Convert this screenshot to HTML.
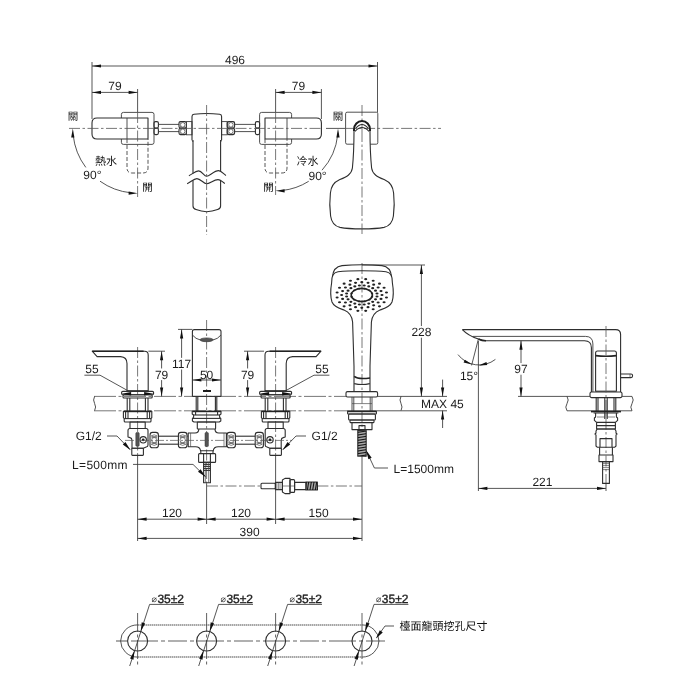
<!DOCTYPE html>
<html lang="zh-Hant">
<head>
<meta charset="utf-8">
<title>Faucet dimension drawing</title>
<style>
html,body{margin:0;padding:0;background:#fff;}
body{width:700px;height:700px;overflow:hidden;}
svg{display:block;will-change:transform;}
.l{fill:none;stroke:#3c3c3c;stroke-width:0.9;}
.kw{fill:#fff;stroke:#2e2e2e;stroke-width:1.1;stroke-linejoin:round;}
.k{fill:none;stroke:#2e2e2e;stroke-width:1.1;stroke-linejoin:round;}
.kk{fill:none;stroke:#1c1c1c;stroke-width:2;}
.f{fill:none;stroke:#444;stroke-width:0.65;}
.d{fill:none;stroke:#383838;stroke-width:0.85;}
.c{fill:none;stroke:#555;stroke-width:0.8;stroke-dasharray:11 2.5 2.5 2.5;}
.h{fill:none;stroke:#444;stroke-width:0.9;stroke-dasharray:4 2;}
.dot{fill:none;stroke:#222;stroke-width:1.1;stroke-dasharray:1.2 0.8;}
.c4{fill:none;stroke:#444;stroke-width:0.85;stroke-dasharray:27 3 4 3 19 3 4 3;}
.c5{fill:none;stroke:#444;stroke-width:0.85;stroke-dasharray:19 2.5 3 2.5;}
.a{fill:#111;stroke:none;}
.b{fill:#222;stroke:none;}
text{text-rendering:geometricPrecision;}
.t{font-family:"Liberation Sans",sans-serif;fill:#1c1c1c;}
.tc{font-family:"Liberation Sans","Noto Sans CJK TC",sans-serif;fill:#111;stroke:none;}
.c2{fill:none;stroke:#555;stroke-width:0.8;stroke-dasharray:22 2.5 3 2.5;}
.kt{fill:none;stroke:#222;stroke-width:1.6;}
.kt2{fill:none;stroke:#222;stroke-width:1.4;}
.k2{fill:none;stroke:#222;stroke-width:1.6;}
.g{fill:#555;stroke:#333;stroke-width:0.6;}
.sp{fill:#444;stroke:#222;stroke-width:0.8;}
.w{fill:#fff;stroke:none;}
.th{fill:#555;stroke:#333;stroke-width:0.5;}
.c3{fill:none;stroke:#555;stroke-width:0.7;stroke-dasharray:9 2 2 2;}
.s2{fill:none;stroke:#111;stroke-width:1;}
.dia{stroke:none;fill:#333;}
.tb{font-family:"Liberation Sans","DejaVu Sans",sans-serif;fill:#222;stroke:#222;stroke-width:0.35px;}
</style>
</head>
<body>
<svg width="700" height="700" viewBox="0 0 700 700">
<rect x="0" y="0" width="700" height="700" fill="#ffffff"/>
<line class="d" x1="92.00" y1="62.00" x2="92.00" y2="119.00"/>
<line class="d" x1="377.50" y1="62.00" x2="377.50" y2="112.40"/>
<line class="d" x1="92.00" y1="66.00" x2="377.50" y2="66.00"/>
<polygon class="a" points="92.00,66.00 101.00,64.40 101.00,67.60"/>
<polygon class="a" points="377.50,66.00 368.50,67.60 368.50,64.40"/>
<text class="t" x="235.00" y="63.60" font-size="12" text-anchor="middle">496</text>
<line class="d" x1="137.60" y1="89.00" x2="137.60" y2="112.00"/>
<line class="d" x1="275.60" y1="89.00" x2="275.60" y2="112.00"/>
<line class="d" x1="321.40" y1="89.00" x2="321.40" y2="119.00"/>
<line class="d" x1="92.00" y1="92.40" x2="137.60" y2="92.40"/>
<polygon class="a" points="92.00,92.40 101.00,90.80 101.00,94.00"/>
<polygon class="a" points="137.60,92.40 128.60,94.00 128.60,90.80"/>
<text class="t" x="115.00" y="90.00" font-size="12" text-anchor="middle">79</text>
<line class="d" x1="275.60" y1="92.40" x2="321.40" y2="92.40"/>
<polygon class="a" points="275.60,92.40 284.60,90.80 284.60,94.00"/>
<polygon class="a" points="321.40,92.40 312.40,94.00 312.40,90.80"/>
<text class="t" x="298.40" y="90.00" font-size="12" text-anchor="middle">79</text>
<rect class="l" x="121.40" y="112.40" width="32.60" height="32.00" rx="2"/>
<path class="kw" d="M148,118 H97 Q92,118 92,123 V134 Q92,139 97,139 H148 Z"/>
<line class="l" x1="127.00" y1="118.00" x2="127.00" y2="139.00"/>
<path class="h" d="M127,139 V168 Q127,173 132,173 H143 Q148,173 148,168 V139"/>
<rect class="l" x="259.60" y="112.40" width="32.00" height="32.00" rx="2"/>
<path class="kw" d="M265,118 H316.4 Q321.4,118 321.4,123 V134 Q321.4,139 316.4,139 H265 Z"/>
<line class="l" x1="287.00" y1="118.00" x2="287.00" y2="139.00"/>
<path class="h" d="M265,139 V168 Q265,173 270,173 H282 Q287,173 287,168 V139"/>
<rect class="k" x="154.00" y="121.60" width="4.40" height="6.40" rx="1.5"/>
<rect class="k" x="154.00" y="128.20" width="4.40" height="6.40" rx="1.5"/>
<line class="l" x1="158.40" y1="124.40" x2="179.00" y2="124.40"/>
<line class="l" x1="158.40" y1="131.60" x2="179.00" y2="131.60"/>
<rect class="k" x="179.00" y="121.60" width="7.40" height="6.40" rx="1.5"/>
<circle class="f" cx="182.70" cy="124.80" r="2.30"/>
<path class="f" d="M180,122.6 L181.2,123.6 M185.4,122.6 L184.20000000000002,123.6 M180,127.0 L181.2,126.0 M185.4,127.0 L184.20000000000002,126.0"/>
<rect class="k" x="179.00" y="128.20" width="7.40" height="6.40" rx="1.5"/>
<circle class="f" cx="182.70" cy="131.40" r="2.30"/>
<path class="f" d="M180,129.2 L181.2,130.2 M185.4,129.2 L184.20000000000002,130.2 M180,133.6 L181.2,132.6 M185.4,133.6 L184.20000000000002,132.6"/>
<rect class="l" x="186.40" y="121.60" width="5.60" height="13.20" rx="0"/>
<rect class="l" x="221.60" y="121.60" width="5.60" height="13.20" rx="0"/>
<rect class="k" x="227.20" y="121.60" width="7.40" height="6.40" rx="1.5"/>
<circle class="f" cx="230.90" cy="124.80" r="2.30"/>
<path class="f" d="M228.2,122.6 L229.39999999999998,123.6 M233.6,122.6 L232.4,123.6 M228.2,127.0 L229.39999999999998,126.0 M233.6,127.0 L232.4,126.0"/>
<rect class="k" x="227.20" y="128.20" width="7.40" height="6.40" rx="1.5"/>
<circle class="f" cx="230.90" cy="131.40" r="2.30"/>
<path class="f" d="M228.2,129.2 L229.39999999999998,130.2 M233.6,129.2 L232.4,130.2 M228.2,133.6 L229.39999999999998,132.6 M233.6,133.6 L232.4,132.6"/>
<line class="l" x1="234.60" y1="124.40" x2="255.40" y2="124.40"/>
<line class="l" x1="234.60" y1="131.60" x2="255.40" y2="131.60"/>
<rect class="k" x="255.40" y="121.60" width="4.20" height="6.40" rx="1.5"/>
<rect class="k" x="255.40" y="128.20" width="4.20" height="6.40" rx="1.5"/>
<path class="k" d="M192,140 V116.5 Q192,114.6 194,114.3 Q206.6,112.6 219.6,114.3 Q221.6,114.6 221.6,116.5 V140"/>
<path class="k" d="M193,140 V173.6 M220.6,140 V171 M193,180.4 V206 Q193,208.6 196,209.6 Q206.6,213.8 217.6,209.6 Q220.6,208.6 220.6,206 V180.6"/>
<path class="l" d="M192,140 L193,142 M221.6,140 L220.6,142"/>
<path class="k" d="M188.9,175.7 C192,174.5 195,170.9 198.6,170.9 C202,170.9 204,176.3 206.6,176.3 C209.5,176.3 214,170.6 218.6,170.6 C221.5,170.6 223.5,174 226,175.4"/>
<path class="k" d="M187.1,183.7 C190.5,182.5 193.5,178.6 196.9,178.6 C200.5,178.6 203.5,183.7 206.6,183.7 C209.5,183.7 214,179.6 218,179.6 C221,179.6 222.5,182.4 224.9,183.4"/>
<line class="c" x1="69.00" y1="128.40" x2="322.00" y2="128.40"/>
<line class="c" x1="345.60" y1="128.40" x2="441.00" y2="128.40"/>
<line class="c" x1="137.60" y1="112.00" x2="137.60" y2="197.00"/>
<line class="c" x1="275.60" y1="112.00" x2="275.60" y2="195.00"/>
<line class="c" x1="206.60" y1="105.00" x2="206.60" y2="235.00"/>
<line class="c" x1="362.00" y1="105.00" x2="362.00" y2="131.00"/>
<path class="d" d="M73.2,135.2 A64.8,64.8 0 0 0 85.8,167.4"/>
<path class="d" d="M100.0,181.2 A64.8,64.8 0 0 0 130.8,192.8"/>
<polygon class="a" points="72.80,128.40 74.40,137.40 71.20,137.40"/>
<polygon class="a" points="137.60,193.20 128.60,194.80 128.60,191.60"/>
<path class="d" d="M337.7,134.9 A62.4,62.4 0 0 1 322.0,170.2"/>
<path class="d" d="M308.7,181.3 A62.4,62.4 0 0 1 282.1,190.5"/>
<polygon class="a" points="338.00,128.40 339.60,137.40 336.40,137.40"/>
<polygon class="a" points="275.60,190.80 284.60,189.20 284.60,192.40"/>
<line class="d" x1="326.00" y1="128.40" x2="345.00" y2="128.40"/>
<text class="tc" x="73.00" y="120.00" font-size="10.5" text-anchor="middle">關</text>
<text class="tc" x="147.60" y="191.00" font-size="10.5" text-anchor="middle">開</text>
<text class="tc" x="338.00" y="120.00" font-size="10.5" text-anchor="middle">關</text>
<text class="tc" x="268.40" y="190.60" font-size="10.5" text-anchor="middle">開</text>
<text class="tc" x="106.00" y="164.60" font-size="11" text-anchor="middle">熱水</text>
<text class="tc" x="307.60" y="165.00" font-size="11" text-anchor="middle">冷水</text>
<text class="t" x="92.40" y="179.00" font-size="12" text-anchor="middle">90°</text>
<text class="t" x="317.60" y="180.00" font-size="12" text-anchor="middle">90°</text>
<rect class="l" x="345.60" y="112.20" width="32.20" height="32.00" rx="1.5"/>
<path class="kw" d="M354,131 C354,142 353.4,158 352.4,168 C351.4,175 346,177 339,180 C333,182.6 331,187 330.4,193 C329.6,200 329.8,210 330.6,216 C331.4,222 334,226 340,227.4 C350,229.4 374,229.4 384,227.4 C390,226 392.6,222 393.4,216 C394.2,210 394.4,200 393.6,193 C393,187 391,182.6 385,180 C378,177 372.6,175 371.6,168 C370.6,158 370,142 370,131"/>
<line class="c" x1="362.00" y1="131.00" x2="362.00" y2="234.00"/>
<path class="kk" d="M354,131 V129.5 A8,8.5 0 0 1 370,129.5 V131"/>
<path class="k" d="M355.8,128.4 Q362,120.6 368.2,128.4 M355,131.4 Q362,123.6 369,131.4"/>
<line class="c2" x1="94.00" y1="396.40" x2="346.00" y2="396.40"/>
<line class="c2" x1="94.00" y1="410.80" x2="348.00" y2="410.80"/>
<line class="d" x1="377.60" y1="396.40" x2="447.00" y2="396.40"/>
<line class="d" x1="376.40" y1="410.80" x2="447.00" y2="410.80"/>
<path class="l" d="M94.6,396.4 Q92.6,400 94.6,403.5 Q96.6,407 94.6,410.6"/>
<path class="l" d="M401,396.4 Q399,400 401,403.5 Q403,407 401,410.6"/>
<line class="c" x1="137.60" y1="347.00" x2="137.60" y2="456.00"/>
<line class="c" x1="275.60" y1="347.00" x2="275.60" y2="456.00"/>
<line class="c" x1="206.60" y1="320.00" x2="206.60" y2="484.00"/>
<line class="c" x1="362.00" y1="263.00" x2="362.00" y2="430.00"/>
<path class="k" d="M127.0,391 V363.5 Q127.0,357 120.6,356.6 H97.1 L92.19999999999999,351.2 H144.6 Q148.2,351.2 148.2,355 V391"/>
<line class="kt" x1="92.20" y1="351.20" x2="143.60" y2="351.20"/>
<line class="kt" x1="127.00" y1="391.00" x2="148.20" y2="391.00"/>
<rect class="k" x="121.60" y="391.40" width="32.00" height="3.40" rx="1.2"/>
<rect class="k" x="123.00" y="394.80" width="29.20" height="3.20" rx="1"/>
<polygon class="a" points="121.60,393.80 131.10,392.00 131.10,395.60"/>
<polygon class="a" points="153.60,393.80 144.10,395.60 144.10,392.00"/>
<line class="k" x1="127.20" y1="398.00" x2="127.20" y2="411.00"/>
<line class="k" x1="129.80" y1="398.00" x2="129.80" y2="411.00"/>
<line class="k" x1="145.40" y1="398.00" x2="145.40" y2="411.00"/>
<line class="k" x1="148.00" y1="398.00" x2="148.00" y2="411.00"/>
<line class="kt" x1="123.40" y1="411.40" x2="151.80" y2="411.40"/>
<path class="k" d="M123.39999999999999,411 V417.6 L124.19999999999999,418.6 V421 Q124.19999999999999,422 125.19999999999999,422 H150.0 Q151.0,422 151.0,421 V418.6 L151.79999999999998,417.6 V411"/>
<line class="k" x1="124.20" y1="418.60" x2="151.00" y2="418.60"/>
<line class="k" x1="125.60" y1="412.00" x2="125.60" y2="418.60"/>
<line class="k" x1="128.00" y1="412.00" x2="128.00" y2="418.60"/>
<line class="k" x1="147.20" y1="412.00" x2="147.20" y2="418.60"/>
<line class="k" x1="149.60" y1="412.00" x2="149.60" y2="418.60"/>
<rect class="k" x="130.00" y="422.00" width="15.20" height="6.50" rx="0"/>
<path class="k" d="M128.0,437 V430.5 Q128.0,428.5 130.0,428.5 H146.1 Q148.0,428.5 148.0,430.5 V445 Q148.0,446.8 146.2,447 L143.2,448.2 H132.0 V440.5 Q132.0,438 130.0,437.6 Z"/>
<rect class="k" x="131.80" y="448.20" width="11.60" height="7.20" rx="0.6"/>
<circle class="k" cx="143.20" cy="439.80" r="3.20"/>
<circle class="b" cx="143.20" cy="439.80" r="1.40"/>
<path class="k" d="M286.20000000000005,391 V363.5 Q286.20000000000005,357 292.6,356.6 H316.1 L321.0,351.2 H268.6 Q265.0,351.2 265.0,355 V391"/>
<line class="kt" x1="321.00" y1="351.20" x2="269.60" y2="351.20"/>
<line class="kt" x1="265.00" y1="391.00" x2="286.20" y2="391.00"/>
<rect class="k" x="259.60" y="391.40" width="32.00" height="3.40" rx="1.2"/>
<rect class="k" x="261.00" y="394.80" width="29.20" height="3.20" rx="1"/>
<polygon class="a" points="259.60,393.80 269.10,392.00 269.10,395.60"/>
<polygon class="a" points="291.60,393.80 282.10,395.60 282.10,392.00"/>
<line class="k" x1="265.20" y1="398.00" x2="265.20" y2="411.00"/>
<line class="k" x1="267.80" y1="398.00" x2="267.80" y2="411.00"/>
<line class="k" x1="283.40" y1="398.00" x2="283.40" y2="411.00"/>
<line class="k" x1="286.00" y1="398.00" x2="286.00" y2="411.00"/>
<line class="kt" x1="261.40" y1="411.40" x2="289.80" y2="411.40"/>
<path class="k" d="M261.40000000000003,411 V417.6 L262.20000000000005,418.6 V421 Q262.20000000000005,422 263.20000000000005,422 H288.0 Q289.0,422 289.0,421 V418.6 L289.8,417.6 V411"/>
<line class="k" x1="262.20" y1="418.60" x2="289.00" y2="418.60"/>
<line class="k" x1="263.60" y1="412.00" x2="263.60" y2="418.60"/>
<line class="k" x1="266.00" y1="412.00" x2="266.00" y2="418.60"/>
<line class="k" x1="285.20" y1="412.00" x2="285.20" y2="418.60"/>
<line class="k" x1="287.60" y1="412.00" x2="287.60" y2="418.60"/>
<rect class="k" x="268.00" y="422.00" width="15.20" height="6.50" rx="0"/>
<path class="k" d="M285.20000000000005,437 V430.5 Q285.20000000000005,428.5 283.20000000000005,428.5 H267.1 Q265.20000000000005,428.5 265.20000000000005,430.5 V445 Q265.20000000000005,446.8 267.0,447 L270.0,448.2 H281.20000000000005 V440.5 Q281.20000000000005,438 283.20000000000005,437.6 Z"/>
<rect class="k" x="269.80" y="448.20" width="11.60" height="7.20" rx="0.6"/>
<circle class="k" cx="270.00" cy="439.80" r="3.20"/>
<circle class="b" cx="270.00" cy="439.80" r="1.40"/>
<path class="k" d="M192.4,396.4 V331.6 Q192.4,329.6 194.4,329.6 H219 Q221,329.6 221,331.6 V396.4"/>
<path class="l" d="M192.4,335 Q195.6,339 200.4,340 M221,335 Q217.8,339 213,340"/>
<ellipse class="g" cx="206.60" cy="339.80" rx="6.60" ry="1.90"/>
<line class="kk" x1="203.00" y1="391.00" x2="211.00" y2="391.00"/>
<line class="k" x1="192.40" y1="396.40" x2="221.00" y2="396.40"/>
<line class="k" x1="196.20" y1="397.00" x2="196.20" y2="411.00"/>
<line class="k" x1="197.80" y1="397.00" x2="197.80" y2="411.00"/>
<line class="k" x1="215.40" y1="397.00" x2="215.40" y2="411.00"/>
<line class="k" x1="216.80" y1="397.00" x2="216.80" y2="411.00"/>
<line class="kt" x1="192.20" y1="411.40" x2="221.00" y2="411.40"/>
<path class="k" d="M192.2,411 V414 L193.6,415 V417.4 L192.4,418.4 V421 L194.0,422 H219.2 L220.79999999999998,421 V418.4 L219.6,417.4 V415 L221.0,414 V411"/>
<line class="k" x1="193.60" y1="415.00" x2="219.60" y2="415.00"/>
<line class="k" x1="192.60" y1="418.40" x2="220.60" y2="418.40"/>
<line class="k" x1="195.60" y1="411.00" x2="195.60" y2="415.00"/>
<line class="k" x1="217.60" y1="411.00" x2="217.60" y2="415.00"/>
<rect class="k" x="197.30" y="422.00" width="18.30" height="7.00" rx="0.6"/>
<path class="k" d="M198.8,429 Q198.8,433 195,433 H188.2 V446.8 H195.6 Q200,446.8 200.6,450.8 H213.2 Q213.8,446.8 218.2,446.8 H226.4 V433 H218.8 Q215,433 215,429"/>
<line class="f" x1="190.60" y1="433.00" x2="190.60" y2="446.80"/>
<line class="f" x1="224.00" y1="433.00" x2="224.00" y2="446.80"/>
<rect class="th" x="205.00" y="432.60" width="3.40" height="14.00" rx="0.8"/>
<rect class="th" x="135.80" y="432.60" width="3.40" height="13.60" rx="0.8"/>
<path class="k" d="M199.4,453.6 H214.8 Q215.6,453.6 215.6,454.6 V461.4 Q215.6,462.4 214.8,462.4 H199.4 Q198.6,462.4 198.6,461.4 V454.6 Q198.6,453.6 199.4,453.6 Z"/>
<line class="k" x1="203.60" y1="453.60" x2="203.60" y2="462.40"/>
<line class="k" x1="210.40" y1="453.60" x2="210.40" y2="462.40"/>
<line class="k" x1="200.80" y1="450.80" x2="200.80" y2="453.60"/>
<line class="k" x1="213.00" y1="450.80" x2="213.00" y2="453.60"/>
<rect class="k" x="203.60" y="462.40" width="6.80" height="20.40" rx="0"/>
<line class="k" x1="203.60" y1="464.40" x2="210.40" y2="464.40"/>
<line class="k" x1="203.60" y1="466.40" x2="210.40" y2="466.40"/>
<line class="k" x1="203.60" y1="468.40" x2="210.40" y2="468.40"/>
<line class="k" x1="203.60" y1="470.40" x2="210.40" y2="470.40"/>
<line class="f" x1="205.40" y1="462.40" x2="205.40" y2="482.80"/>
<line class="f" x1="208.60" y1="462.40" x2="208.60" y2="482.80"/>
<rect class="k" x="150.00" y="432.40" width="8.40" height="15.40" rx="2.6"/>
<ellipse class="f" cx="154.20" cy="440.10" rx="2.60" ry="2.60"/>
<path class="f" d="M151,436.0 Q154.2,433.59999999999997 157.4,436.0 M151,444.19999999999993 Q154.2,446.59999999999997 157.4,444.19999999999993"/>
<path class="f" d="M151.4,436.2 L157.0,437.7 M157.0,436.2 L151.4,437.7 M151.4,443.99999999999994 L157.0,442.49999999999994 M157.0,443.99999999999994 L151.4,442.49999999999994"/>
<rect class="k" x="178.40" y="432.40" width="8.60" height="15.40" rx="2.6"/>
<ellipse class="f" cx="182.70" cy="440.10" rx="2.70" ry="2.60"/>
<path class="f" d="M179.4,436.0 Q182.70000000000002,433.59999999999997 186.0,436.0 M179.4,444.19999999999993 Q182.70000000000002,446.59999999999997 186.0,444.19999999999993"/>
<path class="f" d="M179.8,436.2 L185.6,437.7 M185.6,436.2 L179.8,437.7 M179.8,443.99999999999994 L185.6,442.49999999999994 M185.6,443.99999999999994 L179.8,442.49999999999994"/>
<rect class="k" x="227.00" y="432.40" width="8.40" height="15.40" rx="2.6"/>
<ellipse class="f" cx="231.20" cy="440.10" rx="2.60" ry="2.60"/>
<path class="f" d="M228,436.0 Q231.2,433.59999999999997 234.4,436.0 M228,444.19999999999993 Q231.2,446.59999999999997 234.4,444.19999999999993"/>
<path class="f" d="M228.4,436.2 L234.0,437.7 M234.0,436.2 L228.4,437.7 M228.4,443.99999999999994 L234.0,442.49999999999994 M234.0,443.99999999999994 L228.4,442.49999999999994"/>
<rect class="k" x="255.20" y="432.40" width="8.20" height="15.40" rx="2.6"/>
<ellipse class="f" cx="259.30" cy="440.10" rx="2.50" ry="2.60"/>
<path class="f" d="M256.2,436.0 Q259.3,433.59999999999997 262.4,436.0 M256.2,444.19999999999993 Q259.3,446.59999999999997 262.4,444.19999999999993"/>
<path class="f" d="M256.59999999999997,436.2 L262.0,437.7 M262.0,436.2 L256.59999999999997,437.7 M256.59999999999997,443.99999999999994 L262.0,442.49999999999994 M262.0,443.99999999999994 L256.59999999999997,442.49999999999994"/>
<line class="k" x1="158.40" y1="436.20" x2="178.40" y2="436.20"/>
<line class="k" x1="158.40" y1="444.20" x2="178.40" y2="444.20"/>
<line class="k" x1="235.40" y1="436.20" x2="255.20" y2="436.20"/>
<line class="k" x1="235.40" y1="444.20" x2="255.20" y2="444.20"/>
<line class="l" x1="187.00" y1="436.20" x2="188.20" y2="436.20"/>
<line class="l" x1="187.00" y1="444.20" x2="188.20" y2="444.20"/>
<line class="c3" x1="125.00" y1="440.40" x2="292.00" y2="440.40"/>
<line class="d" x1="137.60" y1="456.00" x2="137.60" y2="541.00"/>
<line class="d" x1="206.60" y1="484.00" x2="206.60" y2="524.00"/>
<line class="d" x1="275.60" y1="456.00" x2="275.60" y2="524.00"/>
<line class="d" x1="362.00" y1="456.00" x2="362.00" y2="541.00"/>
<line class="d" x1="137.60" y1="519.20" x2="206.60" y2="519.20"/>
<polygon class="a" points="137.60,519.20 146.60,517.60 146.60,520.80"/>
<polygon class="a" points="206.60,519.20 197.60,520.80 197.60,517.60"/>
<line class="d" x1="206.60" y1="519.20" x2="275.60" y2="519.20"/>
<polygon class="a" points="206.60,519.20 215.60,517.60 215.60,520.80"/>
<polygon class="a" points="275.60,519.20 266.60,520.80 266.60,517.60"/>
<line class="d" x1="275.60" y1="519.20" x2="362.00" y2="519.20"/>
<polygon class="a" points="275.60,519.20 284.60,517.60 284.60,520.80"/>
<polygon class="a" points="362.00,519.20 353.00,520.80 353.00,517.60"/>
<line class="d" x1="137.60" y1="538.40" x2="362.00" y2="538.40"/>
<polygon class="a" points="137.60,538.40 146.60,536.80 146.60,540.00"/>
<polygon class="a" points="362.00,538.40 353.00,540.00 353.00,536.80"/>
<text class="t" x="172.00" y="516.60" font-size="12" text-anchor="middle">120</text>
<text class="t" x="241.00" y="516.60" font-size="12" text-anchor="middle">120</text>
<text class="t" x="318.60" y="516.60" font-size="12" text-anchor="middle">150</text>
<text class="t" x="249.60" y="536.00" font-size="12" text-anchor="middle">390</text>
<line class="d" x1="148.40" y1="351.20" x2="165.00" y2="351.20"/>
<line class="d" x1="161.60" y1="351.20" x2="161.60" y2="396.40"/>
<polygon class="a" points="161.60,351.20 163.20,360.20 160.00,360.20"/>
<polygon class="a" points="161.60,396.40 160.00,387.40 163.20,387.40"/>
<rect class="w" x="160.10" y="368.46" width="3.00" height="11.64"/>
<text class="t" x="161.60" y="378.60" font-size="12" text-anchor="middle">79</text>
<line class="d" x1="264.00" y1="351.20" x2="244.00" y2="351.20"/>
<line class="d" x1="247.60" y1="351.20" x2="247.60" y2="396.40"/>
<polygon class="a" points="247.60,351.20 249.20,360.20 246.00,360.20"/>
<polygon class="a" points="247.60,396.40 246.00,387.40 249.20,387.40"/>
<rect class="w" x="246.10" y="368.46" width="3.00" height="11.64"/>
<text class="t" x="247.60" y="378.60" font-size="12" text-anchor="middle">79</text>
<line class="d" x1="178.00" y1="329.40" x2="192.40" y2="329.40"/>
<line class="d" x1="181.60" y1="329.40" x2="181.60" y2="396.40"/>
<polygon class="a" points="181.60,329.40 183.20,338.40 180.00,338.40"/>
<polygon class="a" points="181.60,396.40 180.00,387.40 183.20,387.40"/>
<rect class="w" x="180.10" y="357.86" width="3.00" height="11.64"/>
<text class="t" x="181.60" y="368.00" font-size="12" text-anchor="middle">117</text>
<line class="d" x1="192.40" y1="380.00" x2="221.00" y2="380.00"/>
<polygon class="a" points="192.40,380.00 201.40,378.40 201.40,381.60"/>
<polygon class="a" points="221.00,380.00 212.00,381.60 212.00,378.40"/>
<text class="t" x="206.60" y="378.60" font-size="12" text-anchor="middle">50</text>
<text class="t" x="92.00" y="373.00" font-size="12" text-anchor="middle">55</text>
<path class="d" d="M84.4,375.2 H100 L129.5,391.6"/>
<text class="t" x="322.00" y="373.00" font-size="12" text-anchor="middle">55</text>
<path class="d" d="M329.4,375.2 H314 L284,391.6"/>
<text class="t" x="88.80" y="440.40" font-size="12" text-anchor="middle">G1/2</text>
<path class="d" d="M107,436 H117 L130,449.5"/>
<polygon class="a" points="130.60,450.20 122.80,444.48 125.44,442.02"/>
<text class="t" x="324.60" y="440.40" font-size="12" text-anchor="middle">G1/2</text>
<path class="d" d="M306,436 H296 L283,449.5"/>
<polygon class="a" points="282.40,450.20 287.56,442.02 290.20,444.48"/>
<text class="t" x="100.00" y="469.40" font-size="12" text-anchor="middle" letter-spacing="0.3">L=500mm</text>
<path class="d" d="M133,464.4 H193 L205.4,476.6"/>
<polygon class="a" points="206.00,477.20 198.01,471.76 200.56,469.21"/>
<line class="c" x1="207.00" y1="486.00" x2="261.00" y2="486.00"/>
<line class="c" x1="317.40" y1="486.00" x2="362.00" y2="486.00"/>
<rect class="k" x="261.00" y="483.20" width="14.40" height="5.60" rx="1"/>
<rect class="k" x="275.40" y="482.40" width="7.00" height="7.20" rx="0"/>
<line class="f" x1="276.80" y1="482.40" x2="276.80" y2="489.60"/>
<line class="f" x1="278.40" y1="482.40" x2="278.40" y2="489.60"/>
<line class="f" x1="280.00" y1="482.40" x2="280.00" y2="489.60"/>
<path class="k" d="M282.4,480 L285,478.4 H290 V493.6 H285 L282.4,492 Z"/>
<rect class="k" x="290.00" y="479.60" width="4.60" height="12.80" rx="1"/>
<line class="f" x1="282.40" y1="486.00" x2="294.60" y2="486.00"/>
<rect class="k" x="294.60" y="482.40" width="11.40" height="7.20" rx="0"/>
<rect class="k" x="306.00" y="482.00" width="11.40" height="8.00" rx="0"/>
<line class="s2" x1="306.80" y1="482.00" x2="307.60" y2="490.00"/>
<line class="s2" x1="308.40" y1="482.00" x2="309.20" y2="490.00"/>
<line class="s2" x1="310.00" y1="482.00" x2="310.80" y2="490.00"/>
<line class="s2" x1="311.60" y1="482.00" x2="312.40" y2="490.00"/>
<line class="s2" x1="313.20" y1="482.00" x2="314.00" y2="490.00"/>
<line class="s2" x1="314.80" y1="482.00" x2="315.60" y2="490.00"/>
<line class="s2" x1="316.40" y1="482.00" x2="317.20" y2="490.00"/>
<path class="k" d="M331.6,283 C330.4,290 330.4,297 332,302 C334,307 340,308.6 344,310 C349,312 352,316 352.6,322 L354,366 V391.4 M392.4,283 C393.6,290 393.6,297 392,302 C390,307 384,308.6 380,310 C375,312 372,316 371.4,322 L370,366 V391.4"/>
<path class="k" d="M331.6,283 C331.6,276 333,272.6 338,271.8 C350,270.4 374,270.4 386,271.8 C391,272.6 392.4,276 392.4,283"/>
<path class="k" d="M332.4,277 C333,270 336,266.4 342,265.6 C352,264.6 372,264.6 382,265.6 C388,266.4 391,270 391.6,277"/>
<ellipse class="k2" cx="361.80" cy="295.00" rx="10.60" ry="6.60"/>
<ellipse class="b" cx="364.21" cy="285.52" rx="1.55" ry="1.10"/>
<ellipse class="b" cx="368.79" cy="286.45" rx="1.55" ry="1.10"/>
<ellipse class="b" cx="372.69" cy="288.21" rx="1.55" ry="1.10"/>
<ellipse class="b" cx="375.52" cy="290.64" rx="1.55" ry="1.10"/>
<ellipse class="b" cx="377.01" cy="293.50" rx="1.55" ry="1.10"/>
<ellipse class="b" cx="377.01" cy="296.50" rx="1.55" ry="1.10"/>
<ellipse class="b" cx="375.52" cy="299.36" rx="1.55" ry="1.10"/>
<ellipse class="b" cx="372.69" cy="301.79" rx="1.55" ry="1.10"/>
<ellipse class="b" cx="368.79" cy="303.55" rx="1.55" ry="1.10"/>
<ellipse class="b" cx="364.21" cy="304.48" rx="1.55" ry="1.10"/>
<ellipse class="b" cx="359.39" cy="304.48" rx="1.55" ry="1.10"/>
<ellipse class="b" cx="354.81" cy="303.55" rx="1.55" ry="1.10"/>
<ellipse class="b" cx="350.91" cy="301.79" rx="1.55" ry="1.10"/>
<ellipse class="b" cx="348.08" cy="299.36" rx="1.55" ry="1.10"/>
<ellipse class="b" cx="346.59" cy="296.50" rx="1.55" ry="1.10"/>
<ellipse class="b" cx="346.59" cy="293.50" rx="1.55" ry="1.10"/>
<ellipse class="b" cx="348.08" cy="290.64" rx="1.55" ry="1.10"/>
<ellipse class="b" cx="350.91" cy="288.21" rx="1.55" ry="1.10"/>
<ellipse class="b" cx="354.81" cy="286.45" rx="1.55" ry="1.10"/>
<ellipse class="b" cx="359.39" cy="285.52" rx="1.55" ry="1.10"/>
<ellipse class="b" cx="361.80" cy="282.20" rx="1.55" ry="1.10"/>
<ellipse class="b" cx="368.04" cy="282.83" rx="1.55" ry="1.10"/>
<ellipse class="b" cx="373.67" cy="284.64" rx="1.55" ry="1.10"/>
<ellipse class="b" cx="378.14" cy="287.48" rx="1.55" ry="1.10"/>
<ellipse class="b" cx="381.01" cy="291.04" rx="1.55" ry="1.10"/>
<ellipse class="b" cx="382.00" cy="295.00" rx="1.55" ry="1.10"/>
<ellipse class="b" cx="381.01" cy="298.96" rx="1.55" ry="1.10"/>
<ellipse class="b" cx="378.14" cy="302.52" rx="1.55" ry="1.10"/>
<ellipse class="b" cx="373.67" cy="305.36" rx="1.55" ry="1.10"/>
<ellipse class="b" cx="368.04" cy="307.17" rx="1.55" ry="1.10"/>
<ellipse class="b" cx="361.80" cy="307.80" rx="1.55" ry="1.10"/>
<ellipse class="b" cx="355.56" cy="307.17" rx="1.55" ry="1.10"/>
<ellipse class="b" cx="349.93" cy="305.36" rx="1.55" ry="1.10"/>
<ellipse class="b" cx="345.46" cy="302.52" rx="1.55" ry="1.10"/>
<ellipse class="b" cx="342.59" cy="298.96" rx="1.55" ry="1.10"/>
<ellipse class="b" cx="341.60" cy="295.00" rx="1.55" ry="1.10"/>
<ellipse class="b" cx="342.59" cy="291.04" rx="1.55" ry="1.10"/>
<ellipse class="b" cx="345.46" cy="287.48" rx="1.55" ry="1.10"/>
<ellipse class="b" cx="349.93" cy="284.64" rx="1.55" ry="1.10"/>
<ellipse class="b" cx="355.56" cy="282.83" rx="1.55" ry="1.10"/>
<ellipse class="b" cx="365.71" cy="279.20" rx="1.55" ry="1.10"/>
<ellipse class="b" cx="373.15" cy="280.74" rx="1.55" ry="1.10"/>
<ellipse class="b" cx="379.48" cy="283.69" rx="1.55" ry="1.10"/>
<ellipse class="b" cx="384.08" cy="287.74" rx="1.55" ry="1.10"/>
<ellipse class="b" cx="386.49" cy="292.50" rx="1.55" ry="1.10"/>
<ellipse class="b" cx="386.49" cy="297.50" rx="1.55" ry="1.10"/>
<ellipse class="b" cx="384.08" cy="302.26" rx="1.55" ry="1.10"/>
<ellipse class="b" cx="379.48" cy="306.31" rx="1.55" ry="1.10"/>
<ellipse class="b" cx="373.15" cy="309.26" rx="1.55" ry="1.10"/>
<ellipse class="b" cx="365.71" cy="310.80" rx="1.55" ry="1.10"/>
<ellipse class="b" cx="357.89" cy="310.80" rx="1.55" ry="1.10"/>
<ellipse class="b" cx="350.45" cy="309.26" rx="1.55" ry="1.10"/>
<ellipse class="b" cx="344.12" cy="306.31" rx="1.55" ry="1.10"/>
<ellipse class="b" cx="339.52" cy="302.26" rx="1.55" ry="1.10"/>
<ellipse class="b" cx="337.11" cy="297.50" rx="1.55" ry="1.10"/>
<ellipse class="b" cx="337.11" cy="292.50" rx="1.55" ry="1.10"/>
<ellipse class="b" cx="339.52" cy="287.74" rx="1.55" ry="1.10"/>
<ellipse class="b" cx="344.12" cy="283.69" rx="1.55" ry="1.10"/>
<ellipse class="b" cx="350.45" cy="280.74" rx="1.55" ry="1.10"/>
<ellipse class="b" cx="357.89" cy="279.20" rx="1.55" ry="1.10"/>
<ellipse class="b" cx="372.04" cy="296.71" rx="1.20" ry="0.90"/>
<ellipse class="b" cx="369.30" cy="299.67" rx="1.20" ry="0.90"/>
<ellipse class="b" cx="364.54" cy="301.38" rx="1.20" ry="0.90"/>
<ellipse class="b" cx="359.06" cy="301.38" rx="1.20" ry="0.90"/>
<ellipse class="b" cx="354.30" cy="299.67" rx="1.20" ry="0.90"/>
<ellipse class="b" cx="351.56" cy="296.71" rx="1.20" ry="0.90"/>
<ellipse class="b" cx="351.56" cy="293.29" rx="1.20" ry="0.90"/>
<ellipse class="b" cx="354.30" cy="290.33" rx="1.20" ry="0.90"/>
<ellipse class="b" cx="359.06" cy="288.62" rx="1.20" ry="0.90"/>
<ellipse class="b" cx="364.54" cy="288.62" rx="1.20" ry="0.90"/>
<ellipse class="b" cx="369.30" cy="290.33" rx="1.20" ry="0.90"/>
<ellipse class="b" cx="372.04" cy="293.29" rx="1.20" ry="0.90"/>
<path class="kt" d="M354.2,376.4 Q358,379.6 370,378"/>
<path class="k" d="M354.2,383.6 Q362,385.4 369.8,383.6"/>
<rect class="k" x="346.00" y="391.60" width="31.60" height="5.40" rx="1.5"/>
<line class="l" x1="352.00" y1="397.00" x2="352.00" y2="411.00"/>
<line class="l" x1="353.80" y1="397.00" x2="353.80" y2="411.00"/>
<line class="l" x1="370.20" y1="397.00" x2="370.20" y2="411.00"/>
<line class="l" x1="372.00" y1="397.00" x2="372.00" y2="411.00"/>
<line class="f" x1="352.00" y1="403.60" x2="372.00" y2="403.60"/>
<line class="kt" x1="347.60" y1="411.40" x2="376.40" y2="411.40"/>
<rect class="k" x="347.60" y="411.00" width="28.80" height="3.00" rx="0.5"/>
<rect class="k" x="348.60" y="414.00" width="26.80" height="6.00" rx="1"/>
<rect class="k" x="350.00" y="420.00" width="24.00" height="2.60" rx="0.5"/>
<path class="k" d="M352,422.6 V429.6 H372 V422.6"/>
<rect class="k" x="359.00" y="425.60" width="6.00" height="4.60" rx="0"/>
<rect class="k" x="357.80" y="430.20" width="8.40" height="26.00" rx="0"/>
<line class="s2" x1="357.80" y1="431.00" x2="366.20" y2="431.80"/>
<line class="s2" x1="357.80" y1="432.60" x2="366.20" y2="433.40"/>
<line class="s2" x1="357.80" y1="434.20" x2="366.20" y2="435.00"/>
<line class="s2" x1="357.80" y1="435.80" x2="366.20" y2="436.60"/>
<line class="s2" x1="357.80" y1="437.40" x2="366.20" y2="438.20"/>
<line class="s2" x1="357.80" y1="439.00" x2="366.20" y2="439.80"/>
<line class="s2" x1="357.80" y1="440.60" x2="366.20" y2="441.40"/>
<line class="s2" x1="357.80" y1="442.20" x2="366.20" y2="443.00"/>
<line class="s2" x1="357.80" y1="443.80" x2="366.20" y2="444.60"/>
<line class="s2" x1="357.80" y1="445.40" x2="366.20" y2="446.20"/>
<line class="s2" x1="357.80" y1="447.00" x2="366.20" y2="447.80"/>
<line class="s2" x1="357.80" y1="448.60" x2="366.20" y2="449.40"/>
<line class="s2" x1="357.80" y1="450.20" x2="366.20" y2="451.00"/>
<line class="s2" x1="357.80" y1="451.80" x2="366.20" y2="452.60"/>
<line class="s2" x1="357.80" y1="453.40" x2="366.20" y2="454.20"/>
<line class="s2" x1="357.80" y1="455.00" x2="366.20" y2="455.80"/>
<line class="d" x1="362.00" y1="265.00" x2="425.00" y2="265.00"/>
<line class="d" x1="421.40" y1="265.00" x2="421.40" y2="396.40"/>
<polygon class="a" points="421.40,265.00 423.00,274.00 419.80,274.00"/>
<polygon class="a" points="421.40,396.40 419.80,387.40 423.00,387.40"/>
<rect class="w" x="419.90" y="326.06" width="3.00" height="11.64"/>
<text class="t" x="421.40" y="336.20" font-size="12" text-anchor="middle">228</text>
<line class="d" x1="442.60" y1="379.60" x2="442.60" y2="396.40"/>
<polygon class="a" points="442.60,396.40 441.00,387.40 444.20,387.40"/>
<line class="d" x1="442.60" y1="428.00" x2="442.60" y2="410.60"/>
<polygon class="a" points="442.60,410.60 444.20,419.60 441.00,419.60"/>
<text class="t" x="442.40" y="408.00" font-size="12" text-anchor="middle">MAX 45</text>
<text class="t" x="393.60" y="473.00" font-size="12" text-anchor="start">L=1500mm</text>
<path class="d" d="M388,468 H374.4 L366.6,451.5"/>
<polygon class="a" points="366.00,450.00 371.65,457.85 368.38,459.37"/>
<path class="k" d="M462.4,329.6 H615.6 Q620.6,329.6 620.6,334.6 V392"/>
<path class="k" d="M462.4,329.6 Q468,335.6 478.4,339"/>
<path class="l" d="M473,336.4 H585.6 Q592.9,336.4 592.9,344 V392"/>
<path class="k" d="M478.4,339 Q482,340.8 486,340.8 H584.5 Q591.4,340.8 591.4,347.8 V392"/>
<path class="kt" d="M478.4,339 Q482,340.8 486,340.8"/>
<path class="k" d="M595.6,391.6 V353 Q595.6,351 597.6,351 H614.4 Q616.4,351 616.4,353 V391.6"/>
<path class="kt" d="M595.6,355.6 Q606,357 616.4,355.6"/>
<line class="k" x1="595.60" y1="391.20" x2="616.40" y2="391.20"/>
<path class="k" d="M620.6,374 H631 Q632.6,374 632.6,375.8 Q632.6,377.6 631,377.6 H620.6"/>
<line class="f" x1="630.00" y1="374.00" x2="630.00" y2="377.60"/>
<rect class="k" x="590.00" y="392.00" width="32.00" height="5.60" rx="1.5"/>
<line class="c" x1="606.00" y1="326.00" x2="606.00" y2="484.00"/>
<line class="d" x1="518.00" y1="396.40" x2="590.00" y2="396.40"/>
<line class="d" x1="622.00" y1="396.40" x2="632.00" y2="396.40"/>
<line class="d" x1="567.00" y1="410.80" x2="632.00" y2="410.80"/>
<path class="l" d="M567,396.4 Q569.4,400 567,403.6 Q564.6,407 567,410.8"/>
<path class="l" d="M632,396.4 Q634.4,400 632,403.6 Q629.6,407 632,410.8"/>
<line class="k" x1="596.20" y1="397.60" x2="596.20" y2="411.00"/>
<line class="k" x1="598.00" y1="397.60" x2="598.00" y2="411.00"/>
<line class="k" x1="614.00" y1="397.60" x2="614.00" y2="411.00"/>
<line class="k" x1="615.80" y1="397.60" x2="615.80" y2="411.00"/>
<line class="k" x1="604.80" y1="397.60" x2="604.80" y2="419.00"/>
<line class="k" x1="607.20" y1="397.60" x2="607.20" y2="419.00"/>
<line class="kt" x1="591.00" y1="411.60" x2="621.00" y2="411.60"/>
<path class="k" d="M593.6,413 H618.4 M595.6,413 V417 L594.4,418 V420.4 L596.6,422.4 H615.4 L617.6,420.4 V418 L616.4,417 V413"/>
<line class="f" x1="597.00" y1="417.00" x2="615.00" y2="417.00"/>
<path class="k" d="M596.6,422.4 V429 H615.4 V422.4 M596.6,425.6 H615.4"/>
<path class="k" d="M597.2,429 H614.8 L616,431 V433 L617,434 L616,435 V446 L614.8,447.2 H597.2 L596,446 V435 L595,434 L596,433 V431 Z"/>
<path class="k" d="M600,447 V438.6 H612 V447"/>
<path class="k" d="M599.6,447.2 V455 H612.4 V447.2 M599,455 H613 V461.6 H599 Z"/>
<rect class="k" x="602.60" y="461.60" width="6.80" height="21.80" rx="0"/>
<line class="f" x1="602.60" y1="463.60" x2="609.40" y2="463.60"/>
<line class="f" x1="602.60" y1="465.60" x2="609.40" y2="465.60"/>
<line class="f" x1="602.60" y1="467.60" x2="609.40" y2="467.60"/>
<line class="f" x1="602.60" y1="469.60" x2="609.40" y2="469.60"/>
<line class="d" x1="478.40" y1="341.00" x2="478.40" y2="491.00"/>
<line class="d" x1="478.40" y1="488.40" x2="606.00" y2="488.40"/>
<polygon class="a" points="478.40,488.40 487.40,486.80 487.40,490.00"/>
<polygon class="a" points="606.00,488.40 597.00,490.00 597.00,486.80"/>
<text class="t" x="542.40" y="486.00" font-size="12" text-anchor="middle">221</text>
<line class="d" x1="606.00" y1="484.00" x2="606.00" y2="491.00"/>
<line class="d" x1="521.00" y1="340.80" x2="521.00" y2="396.40"/>
<polygon class="a" points="521.00,340.80 522.60,349.80 519.40,349.80"/>
<polygon class="a" points="521.00,396.40 519.40,387.40 522.60,387.40"/>
<rect class="w" x="519.50" y="363.06" width="3.00" height="11.64"/>
<text class="t" x="521.00" y="373.20" font-size="12" text-anchor="middle">97</text>
<line class="d" x1="478.40" y1="339.00" x2="471.60" y2="365.40"/>
<path class="d" d="M458,354.6 A26.6,26.6 0 0 0 495.4,359.4"/>
<polygon class="a" points="472.00,364.60 463.58,362.60 464.89,359.68"/>
<polygon class="a" points="478.60,365.60 486.46,361.99 487.23,365.10"/>
<text class="t" x="469.00" y="380.00" font-size="12" text-anchor="middle">15°</text>
<line class="d" x1="116.00" y1="641.00" x2="127.00" y2="641.00"/>
<line class="c4" x1="131.00" y1="641.00" x2="386.00" y2="641.00"/>
<line class="dot" x1="137.60" y1="625.00" x2="362.00" y2="625.00"/>
<line class="dot" x1="137.60" y1="657.00" x2="362.00" y2="657.00"/>
<path class="d" d="M137.6,624.9 A17,16.1 0 0 0 137.6,657.1"/>
<path class="d" d="M362,624.9 A17,16.1 0 0 1 362,657.1"/>
<circle class="k" cx="137.60" cy="641.00" r="10.00"/>
<line class="c5" x1="137.60" y1="613.00" x2="137.60" y2="666.00"/>
<line class="d" x1="129.70" y1="666.00" x2="149.60" y2="604.40"/>
<line class="d" x1="149.60" y1="604.40" x2="184.00" y2="604.40"/>
<polygon class="a" points="140.67,631.48 141.73,622.37 145.15,623.47"/>
<polygon class="a" points="134.53,650.52 133.47,659.63 130.05,658.53"/>
<text class="tb" x="151.60" y="603" font-size="12"><tspan class="dia" font-size="9" dy="-1.2">⌀</tspan><tspan dy="1.2" dx="0.4">35±2</tspan></text>
<circle class="k" cx="206.60" cy="641.00" r="10.00"/>
<line class="c5" x1="206.60" y1="613.00" x2="206.60" y2="666.00"/>
<line class="d" x1="198.70" y1="666.00" x2="218.60" y2="604.40"/>
<line class="d" x1="218.60" y1="604.40" x2="253.00" y2="604.40"/>
<polygon class="a" points="209.67,631.48 210.73,622.37 214.15,623.47"/>
<polygon class="a" points="203.53,650.52 202.47,659.63 199.05,658.53"/>
<text class="tb" x="220.60" y="603" font-size="12"><tspan class="dia" font-size="9" dy="-1.2">⌀</tspan><tspan dy="1.2" dx="0.4">35±2</tspan></text>
<circle class="k" cx="275.60" cy="641.00" r="10.00"/>
<line class="c5" x1="275.60" y1="613.00" x2="275.60" y2="666.00"/>
<line class="d" x1="267.70" y1="666.00" x2="287.60" y2="604.40"/>
<line class="d" x1="287.60" y1="604.40" x2="322.00" y2="604.40"/>
<polygon class="a" points="278.67,631.48 279.73,622.37 283.15,623.47"/>
<polygon class="a" points="272.53,650.52 271.47,659.63 268.05,658.53"/>
<text class="tb" x="289.60" y="603" font-size="12"><tspan class="dia" font-size="9" dy="-1.2">⌀</tspan><tspan dy="1.2" dx="0.4">35±2</tspan></text>
<circle class="k" cx="362.00" cy="641.00" r="10.00"/>
<line class="c5" x1="362.00" y1="613.00" x2="362.00" y2="666.00"/>
<line class="d" x1="354.10" y1="666.00" x2="374.00" y2="604.40"/>
<line class="d" x1="374.00" y1="604.40" x2="408.40" y2="604.40"/>
<polygon class="a" points="365.07,631.48 366.13,622.37 369.55,623.47"/>
<polygon class="a" points="358.93,650.52 357.87,659.63 354.45,658.53"/>
<text class="tb" x="376.00" y="603" font-size="12"><tspan class="dia" font-size="9" dy="-1.2">⌀</tspan><tspan dy="1.2" dx="0.4">35±2</tspan></text>
<path class="d" d="M376.6,637.6 L385,626 H394"/>
<polygon class="a" points="376.00,638.60 379.83,630.26 382.75,632.38"/>
<text class="tc" x="399.60" y="630.40" font-size="11" text-anchor="start">檯面龍頭挖孔尺寸</text>
</svg>
</body>
</html>
